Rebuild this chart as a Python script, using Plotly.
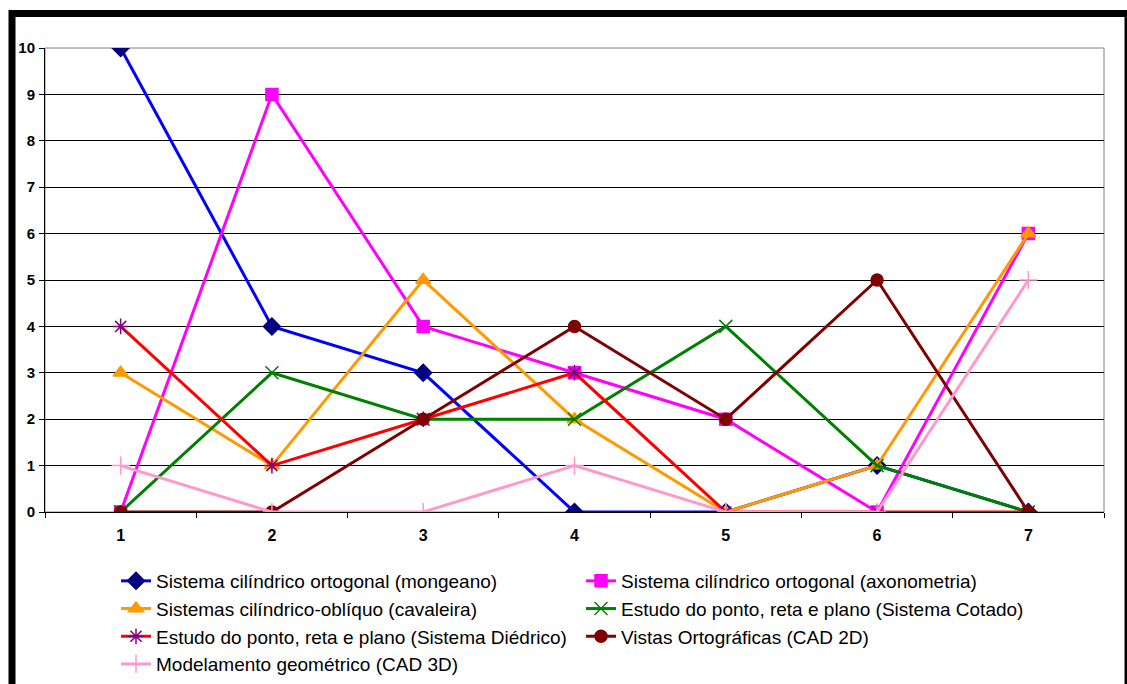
import plotly.graph_objects as go

categories = ["1", "2", "3", "4", "5", "6", "7"]

mongeano = [10, 4, 3, 0, 0, 1, 0]
axonometria = [0, 9, 4, 3, 2, 0, 6]
cavaleira = [3, 1, 5, 2, 0, 1, 6]
cotado = [0, 3, 2, 2, 4, 1, 0]
diedrico = [4, 1, 2, 3, 0, 0, 0]
cad2d = [0, 0, 2, 4, 2, 5, 0]
cad3d = [1, 0, 0, 1, 0, 0, 5]

series = [
    ("Sistema cilíndrico ortogonal (mongeano)", mongeano, "#0000FF", "diamond", "#000080", 13),
    ("Sistema cilíndrico ortogonal (axonometria)", axonometria, "#FF00FF", "square", "#FF00FF", 12),
    ("Sistemas cilíndrico-oblíquo (cavaleira)", cavaleira, "#FF9900", "triangle-up", "#FF9900", 13),
    ("Estudo do ponto, reta e plano (Sistema Cotado)", cotado, "#008000", "x-thin-open", "#008000", 13),
    ("Estudo do ponto, reta e plano (Sistema Diédrico)", diedrico, "#FF0000", "asterisk-open", "#800080", 13),
    ("Vistas Ortográficas (CAD 2D)", cad2d, "#800000", "circle", "#800000", 12),
    ("Modelamento geométrico (CAD 3D)", cad3d, "#FF99CC", "cross-thin-open", "#FF99CC", 13),
]

fig = go.Figure()
for name, vals, lcolor, symbol, mcolor, msize in series:
    fig.add_trace(go.Scatter(
        x=categories, y=vals, name=name, mode="lines+markers",
        line=dict(color=lcolor, width=3),
        marker=dict(symbol=symbol, size=msize, color=mcolor,
                    line=dict(color=mcolor, width=1.5)),
    ))

W, H = 1127, 684
L, R, T = 45, 23, 48
plot_bottom = 512
pw, ph = W - L - R, H - T


def px_x(x):
    return (x - L) / pw


def px_y(y):
    return (H - y) / ph


font_family = "Arial, Liberation Sans, sans-serif"

fig.update_layout(
    width=W, height=H,
    margin=dict(l=L, r=R, t=T, b=0, autoexpand=False),
    paper_bgcolor="white", plot_bgcolor="white",
    font=dict(family=font_family, color="black"),
    showlegend=True,
    legend=dict(
        orientation="h", x=px_x(116), y=px_y(562), xanchor="left", yanchor="top",
        entrywidth=420, entrywidthmode="pixels",
        font=dict(size=19, family=font_family, color="black"),
        bgcolor="rgba(0,0,0,0)", traceorder="normal", itemwidth=30,
    ),
    xaxis=dict(
        type="category", range=[-0.5, 6.5], tickson="boundaries",
        ticks="outside", ticklen=5, tickcolor="black",
        showline=True, linecolor="black", linewidth=1,
        showgrid=False, zeroline=False, automargin=False,
        ticklabelstandoff=9,
        tickfont=dict(size=16, family=font_family, color="black", weight="bold"),
    ),
    yaxis=dict(
        domain=[px_y(plot_bottom), 1], automargin=False,
        range=[0, 10], dtick=1, ticks="outside", ticklen=5, tickcolor="black",
        showline=True, linecolor="black", linewidth=1,
        showgrid=True, gridcolor="#000000", gridwidth=1, zeroline=False,
        ticklabelstandoff=1,
        tickfont=dict(size=15, family=font_family, color="black", weight="bold"),
    ),
    shapes=[
        # grey frame around the plotting area
        dict(type="rect", xref="paper", yref="paper", x0=0, x1=1,
             y0=px_y(plot_bottom), y1=1,
             line=dict(color="#808080", width=1), layer="below"),
        # heavy outer frame of the chart
        dict(type="rect", xref="paper", yref="paper",
             x0=px_x(12), x1=px_x(1128), y0=px_y(700), y1=px_y(13.5),
             line=dict(color="black", width=7)),
    ],
)

fig.write_html("out.html")
